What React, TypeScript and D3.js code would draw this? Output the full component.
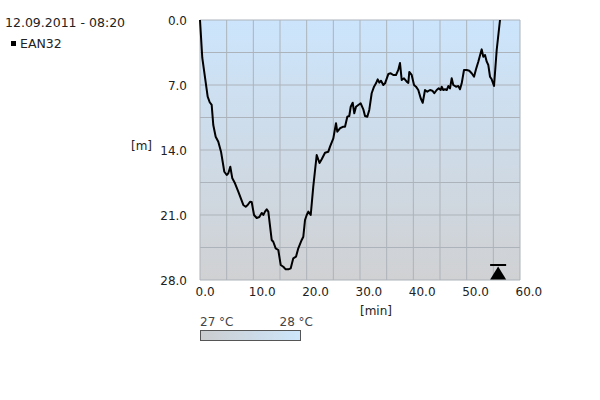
import React from "react";
import * as d3 from "d3";

const title = "12.09.2011 - 08:20";
const seriesName = "EAN32";
const timeMin = [0, 0.43, 1.44, 1.82, 2.19, 2.49, 2.94, 3.43, 3.94, 4.56, 5.01, 5.31, 5.68, 6.06, 6.56, 7.18, 8.12, 8.57, 8.94, 9.38, 9.69, 10.13, 10.63, 11.12, 11.57, 11.87, 12.19, 12.51, 12.81, 13.44, 13.74, 14.19, 14.68, 15.13, 15.62, 16.07, 16.56, 17.01, 17.49, 18.0, 18.43, 19.07, 19.37, 19.69, 20.01, 20.31, 20.76, 21.24, 21.88, 22.41, 22.82, 23.44, 24.06, 24.38, 25.0, 25.5, 25.74, 26.25, 26.87, 27.19, 27.62, 27.99, 28.26, 28.63, 28.93, 29.25, 29.68, 30.13, 30.62, 30.94, 31.37, 31.74, 32.19, 32.63, 33.0, 33.32, 33.62, 33.94, 34.37, 34.69, 35.31, 35.76, 36.24, 36.75, 37.18, 37.5, 37.82, 38.25, 38.76, 39.06, 39.24, 39.69, 40.13, 40.5, 40.93, 41.38, 41.76, 42.19, 42.62, 43.13, 43.56, 43.93, 44.38, 44.76, 45.13, 45.32, 45.62, 45.94, 46.26, 46.56, 46.88, 47.19, 47.49, 48.0, 48.43, 48.75, 49.07, 49.5, 50.01, 50.49, 50.94, 51.38, 51.75, 52.18, 52.82, 53.12, 53.44, 53.76, 54.06, 54.38, 54.69, 55.13, 55.63, 56.25];
const depthM = [0, 4.09, 8.26, 8.86, 9.15, 11.31, 12.57, 13.11, 14.18, 16.34, 16.69, 16.51, 15.8, 17.05, 17.59, 18.49, 19.92, 20.11, 19.92, 19.57, 19.6, 21.0, 21.32, 21.22, 20.78, 21.0, 20.64, 20.39, 20.64, 23.69, 23.88, 24.59, 24.77, 26.38, 26.57, 26.85, 26.85, 26.74, 25.66, 25.49, 24.59, 23.69, 23.34, 21.54, 21.0, 20.64, 21.0, 17.95, 14.54, 15.4, 15.0, 14.29, 14.18, 13.64, 12.74, 11.12, 12.03, 11.66, 11.49, 11.49, 10.41, 10.34, 9.34, 8.91, 10.05, 9.34, 9.15, 8.97, 9.62, 10.34, 10.41, 9.69, 7.89, 7.18, 6.82, 6.39, 6.75, 6.54, 7.0, 6.82, 5.82, 5.74, 5.92, 5.92, 5.38, 4.63, 6.46, 6.28, 6.64, 6.78, 5.6, 5.92, 7.0, 7.18, 7.54, 8.43, 8.91, 7.54, 7.72, 7.54, 7.61, 7.89, 7.54, 7.36, 7.54, 7.18, 7.54, 7.46, 7.54, 7.11, 7.36, 6.28, 7.0, 7.18, 7.11, 7.46, 6.82, 5.38, 5.38, 5.46, 5.74, 6.11, 5.31, 4.49, 3.16, 3.95, 3.77, 4.49, 4.85, 6.11, 6.39, 7.11, 3.23, 0];
const xTicks = [0, 10, 20, 30, 40, 50, 60];
const yTicks = [0, 7, 14, 21, 28];
const xGrid = [0, 5, 10, 15, 20, 25, 30, 35, 40, 45, 50, 55, 60];
const yGrid = [0, 3.5, 7, 10.5, 14, 17.5, 21, 24.5, 28];
const markerTime = [55.9];
const tempLabels = ["27 °C", "28 °C"];

export default function App() {
  const x = d3.scaleLinear().domain([0, 60]).range([200, 520]);
  const y = d3.scaleLinear().domain([0, 28]).range([20, 280]);
  const pts = timeMin.map((t, i) => [t, depthM[i]] as [number, number]);
  const line = d3.line<[number, number]>().x((d) => x(d[0])).y((d) => y(d[1]));
  const font = "DejaVu Sans, sans-serif";
  const txt = "#222";
  return (
    <svg width={600} height={400} style={{ position: "absolute", left: 0, top: 0 }} fontFamily={font}>
      <defs>
        <linearGradient id="bg" x1="0" y1="0" x2="0" y2="1">
          <stop offset="0" stopColor="#cce5fc" />
          <stop offset="1" stopColor="#d0d1d3" />
        </linearGradient>
        <linearGradient id="tbar" x1="0" y1="0" x2="1" y2="0">
          <stop offset="0" stopColor="#cbcdcf" />
          <stop offset="1" stopColor="#cde5fb" />
        </linearGradient>
      </defs>
      <rect x={0} y={0} width={600} height={400} fill="#fff" />
      <rect x={x(0)} y={y(0)} width={x(60) - x(0)} height={y(28) - y(0)} fill="url(#bg)" />
      {xGrid.map((v) => (
        <line key={"gx" + v} x1={x(v)} x2={x(v)} y1={y(0)} y2={y(28)} stroke="#adb3ba" strokeWidth={1} />
      ))}
      {yGrid.map((v) => (
        <line key={"gy" + v} x1={x(0)} x2={x(60)} y1={y(v)} y2={y(v)} stroke="#adb3ba" strokeWidth={1} />
      ))}
      <path d={line(pts) || ""} fill="none" stroke="#000" strokeWidth={2} strokeLinejoin="round" />
      {markerTime.map((t) => (
        <g key={"m" + t}>
          <rect x={x(t) - 8} y={264} width={16} height={2} fill="#000" />
          <path d={`M${x(t)},266.5 L${x(t) + 8},${y(28) - 0.5} L${x(t) - 8},${y(28) - 0.5} Z`} fill="#000" />
        </g>
      ))}
      {yTicks.map((v) => (
        <text key={"yt" + v} x={187} y={y(v) + 5} textAnchor="end" fontSize={12} fill={txt}>
          {v.toFixed(1)}
        </text>
      ))}
      {xTicks.map((v) => (
        <text key={"xt" + v} x={x(v) - 4.5} y={296} textAnchor="start" fontSize={12} fill={txt}>
          {v.toFixed(1)}
        </text>
      ))}
      <text x={131} y={150} fontSize={12} fill={txt}>[m]</text>
      <text x={376} y={315} textAnchor="middle" fontSize={12} fill={txt}>[min]</text>
      <text x={5} y={27} fontSize={12.5} fill={txt}>{title}</text>
      <rect x={11} y={41} width={5} height={5} fill="#000" />
      <text x={20} y={48} fontSize={12.5} fill={txt}>{seriesName}</text>
      <rect x={200.5} y={330.5} width={100} height={10} fill="url(#tbar)" stroke="#555" strokeWidth={1} />
      <text x={200} y={326} fontSize={12} fill="#444">{tempLabels[0]}</text>
      <text x={313} y={326} textAnchor="end" fontSize={12} fill="#444">{tempLabels[1]}</text>
    </svg>
  );
}
